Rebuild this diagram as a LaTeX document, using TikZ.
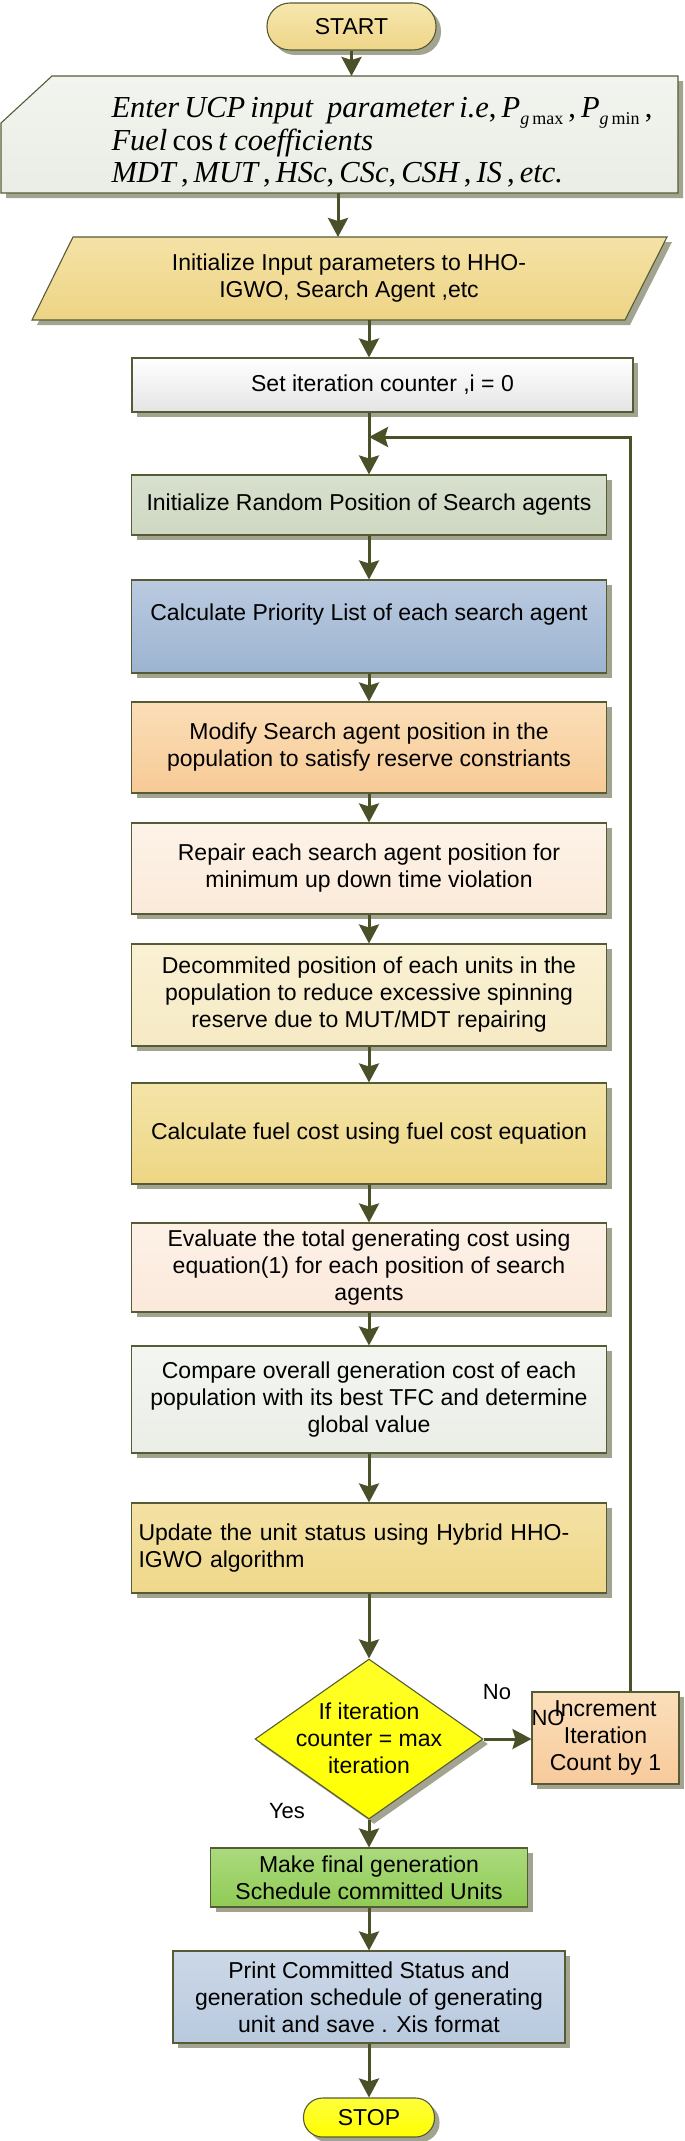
\documentclass[tikz,border=0pt]{standalone}
\usepackage{fontspec}
\setmainfont{Liberation Sans}
\newfontfamily\timesf{Liberation Serif}
\usetikzlibrary{arrows.meta,shapes.geometric,shadows}

\definecolor{edge}{HTML}{555C35}
\definecolor{arrowc}{HTML}{4A5028}
\definecolor{shad}{HTML}{A3A48F}

\begin{document}
\begin{tikzpicture}[x=1pt,y=-1pt,
  every node/.style={font=\fontsize{23}{27}\selectfont},
  dsh/.style={drop shadow={shadow xshift=5pt, shadow yshift=-5pt, fill=shad, opacity=1}},
  box/.style={draw=edge, line width=1.1pt, rectangle, inner sep=0pt, align=center, dsh},
  flow/.style={draw=arrowc, line width=3pt, -{Stealth[width=20pt,length=19pt,inset=3pt]}},
  lbl/.style={font=\fontsize{22}{26}\selectfont},
]
\useasboundingbox (0,0) rectangle (685,2141);

% START
\node[box, minimum width=169pt, minimum height=47pt, rounded corners=23pt,
      top color={rgb,255:red,247;green,231;blue,173}, bottom color={rgb,255:red,238;green,213;blue,137}] (start) at (351.5,26.5) {START};

% input (manual input shape)
\path[draw=edge, line width=1.1pt, dsh, top color={rgb,255:red,242;green,244;blue,239}, bottom color={rgb,255:red,234;green,237;blue,229}]
  (1,123) -- (52,76) -- (678,76) -- (678,193) -- (1,193) -- cycle;
\node[anchor=west, align=left, font=\timesf\itshape\fontsize{30.5}{32.5}\selectfont] (input) at (108,142.5)
  {Enter\,UCP\,input\hspace{14pt}parameter\,i.e{\upshape,}\,P\raisebox{-7pt}{\fontsize{18}{18}\selectfont g\,\upshape max}{\upshape\,,\,}P\raisebox{-7pt}{\fontsize{18}{18}\selectfont g\,\upshape min}{\upshape\,,}\\
   Fuel\,{\upshape cos}\,t coefficients\\
   MDT{\upshape\,,\,}MUT{\upshape\,,\,}HSc{\upshape,\,}CSc{\upshape,\,}CSH{\upshape\,,\,}IS{\upshape\,,\,}etc.};
\coordinate (inTop) at (351.5,76);
\coordinate (inBot) at (338,193);
\draw[flow] (start) -- (inTop);

% parallelogram
\path[draw=edge, line width=1.1pt, dsh, top color={rgb,255:red,245;green,226;blue,166}, bottom color={rgb,255:red,237;green,212;blue,133}]
  (73,237) -- (667,237) -- (625,320) -- (32,320) -- cycle;
\node[align=center] (para) at (349,278.5) {Initialize Input parameters to HHO-\\IGWO, Search Agent ,etc};
\coordinate (paraTop) at (338,237);
\coordinate (paraBot) at (369,320);
\draw[flow] (inBot) -- (paraTop);

% set iteration
\node[box, minimum width=501pt, minimum height=54pt, top color=white, bottom color={rgb,255:red,228;green,228;blue,228}] (setit) at (382.5,385) {Set iteration counter ,i = 0};
\draw[flow] (paraBot) -- (paraBot |- setit.north);

% main column
\node[box, minimum width=475pt, minimum height=60pt, top color={rgb,255:red,216;green,224;blue,206}, bottom color={rgb,255:red,206;green,216;blue,193}] (init) at (369,505) {Initialize Random Position of Search agents};
\node[box, minimum width=475pt, minimum height=93pt, top color={rgb,255:red,186;green,202;blue,224}, bottom color={rgb,255:red,156;green,180;blue,209}] (prio) at (369,626.5) {Calculate Priority List of each search agent\\[2pt]\mbox{}};
\node[box, minimum width=475pt, minimum height=91pt, top color={rgb,255:red,251;green,222;blue,183}, bottom color={rgb,255:red,247;green,202;blue,150}] (modify) at (369,747.5) {Modify Search agent position in the\\population to satisfy reserve constriants};
\node[box, minimum width=475pt, minimum height=91pt, top color={rgb,255:red,253;green,243;blue,231}, bottom color={rgb,255:red,251;green,234;blue,218}] (repair) at (369,868.5) {Repair each search agent position for\\minimum up down time violation};
\node[box, minimum width=475pt, minimum height=102pt, top color={rgb,255:red,250;green,241;blue,212}, bottom color={rgb,255:red,246;green,234;blue,196}] (decom) at (369,995) {Decommited position of each units in the\\population to reduce excessive spinning\\reserve due to MUT/MDT repairing};
\node[box, minimum width=475pt, minimum height=101pt, top color={rgb,255:red,244;green,228;blue,168}, bottom color={rgb,255:red,237;green,214;blue,131}] (fuel) at (369,1133.5) {Calculate fuel cost using fuel cost equation};
\node[box, minimum width=475pt, minimum height=89pt, top color={rgb,255:red,253;green,241;blue,230}, bottom color={rgb,255:red,251;green,233;blue,219}] (eval) at (369,1267.5) {Evaluate the total generating cost using\\equation(1) for each position of search\\agents};
\node[box, minimum width=475pt, minimum height=107pt, top color={rgb,255:red,243;green,245;blue,241}, bottom color={rgb,255:red,235;green,238;blue,231}] (comp) at (369,1399.5) {Compare overall generation cost of each\\population with its best TFC and determine\\global value};
\node[box, minimum width=475pt, minimum height=90pt, text width=461pt, inner xsep=7pt, align=left, top color={rgb,255:red,244;green,225;blue,164}, bottom color={rgb,255:red,239;green,216;blue,138}] (upd) at (369,1548) {Update the unit status using Hybrid HHO-\\IGWO algorithm};

% decision
\node[diamond, draw=edge, line width=1.1pt, dsh, aspect=1.425, minimum width=228pt, minimum height=160pt, inner sep=0pt,
      top color={rgb,255:red,255;green,255;blue,40}, bottom color={rgb,255:red,255;green,255;blue,0}] (dec) at (369,1739) {};
\node[align=center] (dectext) at (369,1738.5) {If iteration\\counter = max\\iteration};

\node[box, minimum width=147pt, minimum height=92pt, top color={rgb,255:red,251;green,223;blue,187}, bottom color={rgb,255:red,247;green,202;blue,155}] (incr) at (605.5,1738) {Increment\\Iteration\\Count by 1};

\node[box, minimum width=317pt, minimum height=59pt, top color={rgb,255:red,171;green,218;blue,125}, bottom color={rgb,255:red,144;green,203;blue,85}] (final) at (369,1877.5) {Make final generation\\Schedule committed Units};
\node[box, minimum width=392pt, minimum height=92pt, top color={rgb,255:red,204;green,216;blue,232}, bottom color={rgb,255:red,184;green,201;blue,222}] (print) at (369,1997) {Print Committed Status and\\generation schedule of generating\\unit and save . Xis format};
\node[box, minimum width=131pt, minimum height=39pt, rounded corners=19pt, top color={rgb,255:red,255;green,255;blue,60}, bottom color={rgb,255:red,255;green,255;blue,0}] (stop) at (369,2117.5) {STOP};

% connectors
\draw[flow] (setit.south -| init.north) -- (init.north);
\draw[flow] (init) -- (prio);
\draw[flow] (prio) -- (modify);
\draw[flow] (modify) -- (repair);
\draw[flow] (repair) -- (decom);
\draw[flow] (decom) -- (fuel);
\draw[flow] (fuel) -- (eval);
\draw[flow] (eval) -- (comp);
\draw[flow] (comp) -- (upd);
\draw[flow] (upd) -- (dec);
\draw[flow] (dec.east) -- (dec.east -| incr.west);
\coordinate (loopTop) at (630,437);
\draw[flow] (incr.north -| loopTop) -- (loopTop) -- (init.north |- loopTop);
\draw[flow] (dec) -- (final);
\draw[flow] (final) -- (print);
\draw[flow] (print) -- (stop);

% labels
\node[lbl] (no1) at (497,1692) {No};
\node[lbl] (no2) at (548,1718) {NO};
\node[lbl] (yes) at (287,1811) {Yes};
\end{tikzpicture}
\end{document}
